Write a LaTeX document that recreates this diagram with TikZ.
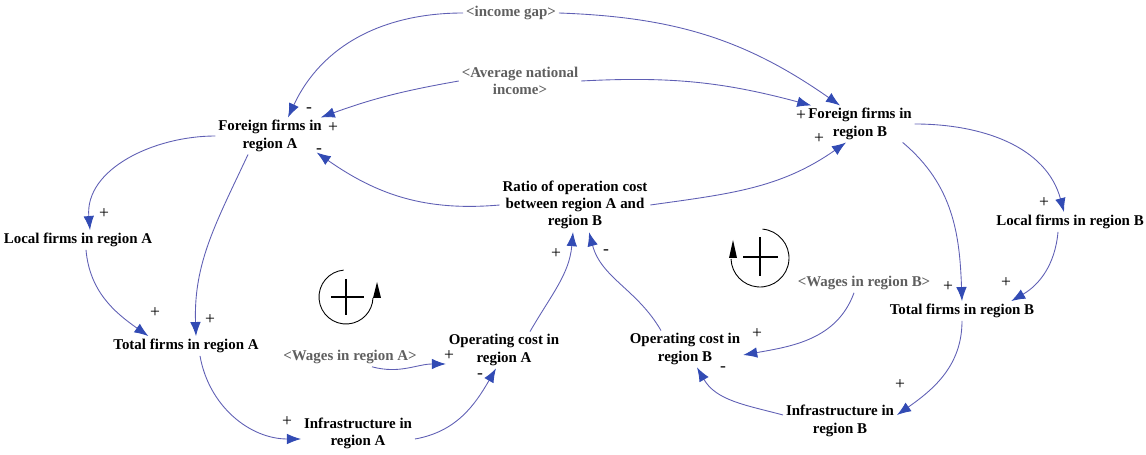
\documentclass[tikz,border=0pt]{standalone}
\usepackage{fontspec}
\newfontfamily\vfont{LiberationSerif}[Extension=.ttf, UprightFont=*-Regular, BoldFont=*-Bold]
\usetikzlibrary{arrows.meta,calc}
\definecolor{linec}{RGB}{95,95,180}
\definecolor{headc}{RGB}{50,75,180}
\definecolor{shadowc}{RGB}{95,95,95}
\begin{document}
\begin{tikzpicture}[x=0.02cm,y=0.02cm,
 var/.style={font=\vfont\fontsize{8.5}{9.8}\selectfont\bfseries, align=center, inner sep=1.5pt},
 shad/.style={var, text=shadowc},
 link/.style={draw=linec, line width=0.5pt, -{Latex[length=8pt,width=6pt,color=headc]}},
 pol/.style={font=\vfont\fontsize{10}{11}\selectfont, inner sep=0pt}]
\useasboundingbox (0,0) rectangle (1146,-455);
% variables
\node[shad] (ig) at (511,-13) {<income gap>};
\node[shad] (avg) at (520,-81) {<Average national\\income>};
\node[var] (FA) at (270,-136) {Foreign firms in\\region A};
\node[var] (FB) at (860,-124) {Foreign firms in\\region B};
\node[var] (R) at (575,-205) {Ratio of operation cost\\between region A and\\region B};
\node[var] (LA) at (78,-240) {Local firms in region A};
\node[var] (LB) at (1070,-222) {Local firms in region B};
\node[var] (TA) at (186,-346) {Total firms in region A};
\node[var] (TB) at (962,-311) {Total firms in region B};
\node[var] (OA) at (504,-350) {Operating cost in\\region A};
\node[var] (OB) at (685,-349) {Operating cost in\\region B};
\node[var] (IA) at (358,-433) {Infrastructure in\\region A};
\node[var] (IB) at (840,-421) {Infrastructure in\\region B};
\node[shad] (WA) at (350,-357) {<Wages in region A>};
\node[shad] (WB) at (864,-283) {<Wages in region B>};
% links
\draw[link] (ig.west) to[out=180,in=65] ($(FA.north)+(18,0)$);
\draw[link] (ig.east) to[out=-2,in=145] ($(FB.north)+(-20,0)$);
\draw[link] (avg.west) to[out=190,in=20] ($(FA.north east)+(-4,0)$);
\draw[link] (avg.east) to[out=3,in=165] ($(FB.north west)+(6,0)$);
\draw[link] (R.west) to[out=185,in=-35] ($(FA.south east)+(-8,2)$);
\draw[link] (R.east) to[out=8,in=-145] ($(FB.south)+(-14,0)$);
\draw[link] (FA.west) to[out=180,in=95] ($(LA.north)+(12,0)$);
\draw[link] ($(FA.south)+(-22,0)$) to[out=-115,in=92] ($(TA.north)+(10,0)$);
\draw[link] ($(LA.south)+(8,0)$) to[out=-85,in=145] ($(TA.north west)+(38,0)$);
\draw[link] ($(TA.south)+(14,0)$) to[out=-80,in=180] ($(IA.west)+(0,-6)$);
\draw[link] ($(IA.east)+(0,-6)$) to[out=10,in=-120] ($(OA.south)+(-8,0)$);
\draw[link] ($(WA.south)+(22,0)$) to[out=-15,in=180] ($(OA.west)+(0,-14)$);
\draw[link] ($(OA.north)+(26,0)$) to[out=60,in=-95] ($(R.south)+(-2,0)$);
\draw[link] ($(OB.north)+(-24,0)$) to[out=120,in=-75] ($(R.south)+(14,0)$);
\draw[link] ($(WB.south)+(-10,0)$) to[out=-110,in=10] ($(OB.east)+(0,-6)$);
\draw[link] ($(IB.west)+(0,6)$) to[out=165,in=-60] ($(OB.south)+(12,0)$);
\draw[link] ($(TB.south)+(0,0)$) to[out=-90,in=35] ($(IB.east)+(0,6)$);
\draw[link] ($(FB.south east)+(-12,0)$) to[out=-40,in=92] ($(TB.north)+(0,0)$);
\draw[link] ($(LB.south)+(-12,0)$) to[out=-95,in=30] ($(TB.north east)+(-26,0)$);
\draw[link] (FB.east) to[out=0,in=105] ($(LB.north)+(-6,0)$);
% polarities
\node[pol] at (333,-128) {+};
\node[pol] at (309,-110) {-};
\node[pol] at (319,-151) {-};
\node[pol] at (104,-214) {+};
\node[pol] at (155,-313) {+};
\node[pol] at (210,-320) {+};
\node[pol] at (287,-422) {+};
\node[pol] at (449,-356) {+};
\node[pol] at (480,-376) {-};
\node[pol] at (556,-254) {+};
\node[pol] at (606,-252) {-};
\node[pol] at (757,-334) {+};
\node[pol] at (723,-369) {-};
\node[pol] at (900,-385) {+};
\node[pol] at (948,-287) {+};
\node[pol] at (1006,-283) {+};
\node[pol] at (801,-116) {+};
\node[pol] at (819,-139) {+};
\node[pol] at (1044,-203) {+};
% loop symbols
\draw[line width=0.5pt] (346,-297) ++(95:27) arc[start angle=95, end angle=358, radius=27];
\fill (377,-282) -- (373,-298) -- (381,-298) -- cycle;
\draw[line width=1.2pt] (331,-297) -- (364,-297) (346,-279) -- (346,-315);
\draw[line width=0.5pt] (760,-258) ++(85:29) arc[start angle=85, end angle=-178, radius=29];
\fill (733,-240) -- (729,-258) -- (737,-258) -- cycle;
\draw[line width=1.2pt] (743,-257) -- (778,-257) (760,-237) -- (760,-276);
\end{tikzpicture}
\end{document}
